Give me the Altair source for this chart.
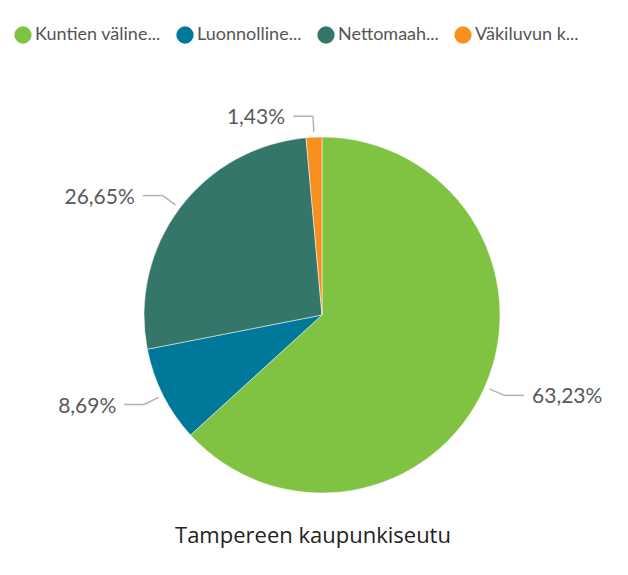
import altair as alt
import pandas as pd

# ---- data ----
categories = ["Kuntien väline...", "Luonnolline...", "Nettomaah...", "Väkiluvun k..."]
shares = [63.23, 8.69, 26.65, 1.43]
slice_order = [0, 1, 2, 3]
colors = ["#80C342", "#00789A", "#35766A", "#F7901E"]
title_text = ["Tampereen kaupunkiseutu"]

df = pd.DataFrame({"category": categories, "share": shares, "idx": slice_order})

CX, CY, R = 314, 307, 178
R1, R2, HL, GAP = R + 5, R + 21, 20, 8

arc = alt.Chart(df).mark_arc(radius=R, stroke="#ffffff", strokeWidth=0.5).encode(
    theta=alt.Theta("share:Q", stack=True),
    color=alt.Color(
        "category:N",
        scale=alt.Scale(domain=categories, range=colors),
        legend=alt.Legend(
            title=None,
            orient="none",
            legendX=6,
            legendY=18,
            direction="horizontal",
            symbolType="circle",
            symbolSize=300,
            symbolStrokeWidth=0,
            labelFont="Lato",
            labelFontSize=18,
            labelColor="#555555",
            labelOffset=3,
            columnPadding=15,
        ),
    ),
    order=alt.Order("idx:Q"),
    x=alt.value(CX),
    y=alt.value(CY),
)

geo = (
    alt.Chart(df)
    .transform_window(cum="sum(share)", sort=[alt.SortField("idx")], frame=[None, 0])
    .transform_joinaggregate(total="sum(share)")
    .transform_calculate(
        ang="(datum.cum - datum.share/2) / datum.total * 2 * PI",
        s="sin(datum.ang)",
        c="cos(datum.ang)",
        side="datum.s >= 0 ? 1 : -1",
        xa=f"{CX} + {R1} * datum.s",
        ya=f"{CY} - {R1} * datum.c",
        xb=f"{CX} + {R2} * datum.s",
        yb=f"{CY} - {R2} * datum.c",
        xc=f"datum.xb + {HL} * datum.side",
        xt=f"datum.xc + {GAP} * datum.side",
        lab="replace(format(datum.share, '.2f'), '.', ',') + '%'",
    )
)

radial = geo.mark_rule(color="#b3b3b3", strokeWidth=1.5).encode(
    x=alt.X("xa:Q", scale=None), y=alt.Y("ya:Q", scale=None),
    x2="xb:Q", y2="yb:Q",
)
horiz = geo.mark_rule(color="#b3b3b3", strokeWidth=1.5).encode(
    x=alt.X("xb:Q", scale=None), y=alt.Y("yb:Q", scale=None),
    x2="xc:Q", y2="yb:Q",
)
txt_r = geo.transform_filter("datum.side > 0").mark_text(
    align="left", baseline="middle", font="Lato", fontSize=21, color="#5a5a5a", dy=2
).encode(x=alt.X("xt:Q", scale=None), y=alt.Y("yb:Q", scale=None), text="lab:N")
txt_l = geo.transform_filter("datum.side < 0").mark_text(
    align="right", baseline="middle", font="Lato", fontSize=21, color="#5a5a5a", dy=2
).encode(x=alt.X("xt:Q", scale=None), y=alt.Y("yb:Q", scale=None), text="lab:N")

title = alt.Chart(pd.DataFrame({"t": title_text})).mark_text(
    align="center", baseline="alphabetic", font="Open Sans", fontSize=22, color="#222222"
).encode(x=alt.value(305), y=alt.value(535), text="t:N")

chart = (
    alt.layer(arc, radial, horiz, txt_r, txt_l, title)
    .properties(width=612, height=559, autosize=alt.AutoSizeParams(type="none"), padding=0)
    .configure_view(stroke=None)
)

chart.save("out.html", embed_options={"renderer": "svg", "actions": False})
